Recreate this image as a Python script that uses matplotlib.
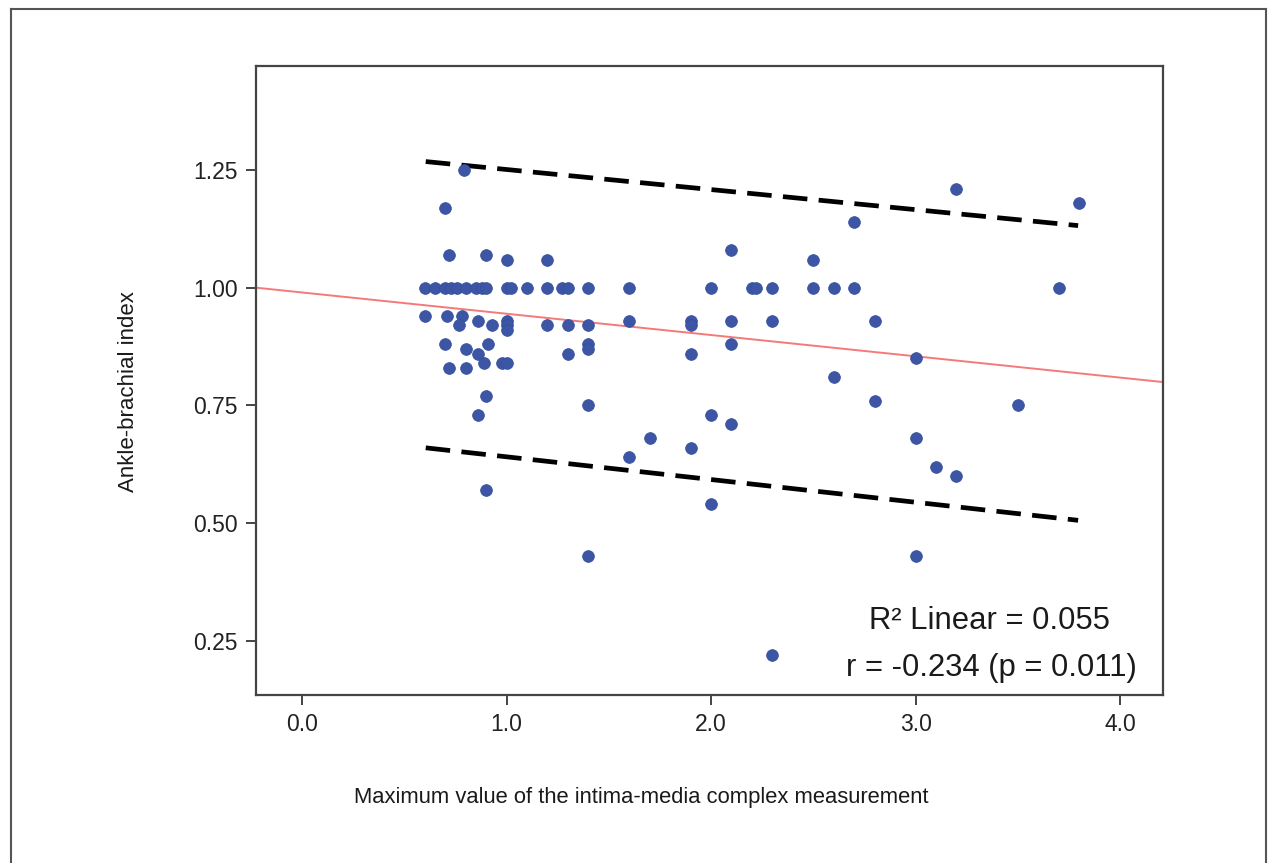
import matplotlib
matplotlib.use("Agg")
import matplotlib.pyplot as plt
from matplotlib.lines import Line2D
import numpy as np

# ---- data ----
imt_max = [
    # ABI = 1.00 row
    0.60, 0.65, 0.70, 0.73, 0.76, 0.80, 0.85, 0.88, 0.90, 1.00, 1.02, 1.10, 1.20, 1.27, 1.30, 1.40,
    1.60, 2.00, 2.20, 2.22, 2.30, 2.50, 2.60, 2.70, 3.70,
    # above 1.00
    0.79, 0.70, 0.72, 0.90, 1.00, 1.20, 2.10, 2.50, 2.70, 3.20, 3.80,
    # 0.90 - 0.95
    0.60, 0.71, 0.78, 0.77, 0.86, 0.93, 1.00, 1.00, 1.00, 1.20, 1.30, 1.40, 1.60, 1.90, 1.90,
    2.10, 2.30, 2.80,
    # 0.80 - 0.89
    0.70, 0.80, 0.91, 0.86, 0.89, 0.98, 1.00, 0.72, 0.80, 1.30, 1.40, 1.40, 2.10, 1.90, 3.00, 2.60,
    # below 0.80
    0.90, 0.86, 1.40, 2.80, 3.50, 2.00, 2.10, 1.70, 3.00, 1.90, 1.60, 3.10, 3.20,
    0.90, 2.00, 1.40, 3.00, 2.30,
]
abi = [
    1.00, 1.00, 1.00, 1.00, 1.00, 1.00, 1.00, 1.00, 1.00, 1.00, 1.00, 1.00, 1.00, 1.00, 1.00, 1.00,
    1.00, 1.00, 1.00, 1.00, 1.00, 1.00, 1.00, 1.00, 1.00,
    1.25, 1.17, 1.07, 1.07, 1.06, 1.06, 1.08, 1.06, 1.14, 1.21, 1.18,
    0.94, 0.94, 0.94, 0.92, 0.93, 0.92, 0.93, 0.92, 0.91, 0.92, 0.92, 0.92, 0.93, 0.93, 0.92,
    0.93, 0.93, 0.93,
    0.88, 0.87, 0.88, 0.86, 0.84, 0.84, 0.84, 0.83, 0.83, 0.86, 0.88, 0.87, 0.88, 0.86, 0.85, 0.81,
    0.77, 0.73, 0.75, 0.76, 0.75, 0.73, 0.71, 0.68, 0.68, 0.66, 0.64, 0.62, 0.60,
    0.57, 0.54, 0.43, 0.43, 0.22,
]

# fit line
fit_intercept = 0.990
fit_slope = -0.0452
# prediction-interval lines, endpoints
pi_x = [0.605, 3.795]
pi_upper = [1.268, 1.132]
pi_lower = [0.660, 0.506]

x_ticks = [0.0, 1.0, 2.0, 3.0, 4.0]
y_ticks = [0.25, 0.50, 0.75, 1.00, 1.25]
x_label = "Maximum value of the intima-media complex measurement"
y_label = "Ankle-brachial index"
stat_line1 = "R\u00b2 Linear = 0.055"
stat_line2 = "r = -0.234 (p = 0.011)"

FONT = ["Liberation Sans", "DejaVu Sans"]
plt.rcParams["font.family"] = FONT

W, H = 1268, 863
fig = plt.figure(figsize=(W / 100, H / 100), dpi=100)
fig.patch.set_facecolor("white")

ax = fig.add_axes([256 / W, 1 - 695 / H, (1163 - 256) / W, (695 - 66) / H])
xlim = (-0.225, 4.21)
ax.set_xlim(*xlim)
ax.set_ylim(0.135, 1.471)

# regression line across whole axis
xl = np.array(xlim)
ax.plot(xl, fit_intercept + fit_slope * xl, color="#f47a7a", lw=1.4, zorder=2)
# dashed interval lines
ax.plot(pi_x, pi_upper, color="black", lw=3.4, dashes=(5.2, 2.4), zorder=3)
ax.plot(pi_x, pi_lower, color="black", lw=3.4, dashes=(5.2, 2.4), zorder=3)

ax.scatter(imt_max, abi, s=72, color="#3c55a5", edgecolors="#34509e", linewidths=0.5, zorder=4)

ax.set_xticks(x_ticks)
ax.set_xticklabels([f"{v:.1f}" for v in x_ticks])
ax.set_yticks(y_ticks)
ax.set_yticklabels([f"{v:.2f}" for v in y_ticks])
ax.tick_params(direction="out", length=7, width=1.4, color="#444444",
               labelsize=16.5, labelcolor="#222222", pad=6)
for sp in ax.spines.values():
    sp.set_color("#444444")
    sp.set_linewidth(1.6)

fig.text(989 / W, 1 - 621 / H, stat_line1, ha="center", va="center",
         fontsize=22.3, color="#1a1a1a")
fig.text(991 / W, 1 - 668 / H, stat_line2, ha="center", va="center",
         fontsize=22.3, color="#1a1a1a")

fig.text(641 / W, 1 - 797 / H, x_label, ha="center", va="center", fontsize=15.8, color="#1a1a1a")
fig.text(128 / W, 1 - 392 / H, y_label, ha="center", va="center", rotation=90,
         fontsize=16, color="#1a1a1a")

# outer frame (left, top, right)
fc = "#555555"
fig.add_artist(Line2D([11 / W, 11 / W], [0, 1 - 9 / H], color=fc, lw=1.5, transform=fig.transFigure))
fig.add_artist(Line2D([11 / W, 1266 / W], [1 - 9 / H, 1 - 9 / H], color=fc, lw=1.5, transform=fig.transFigure))
fig.add_artist(Line2D([1266 / W, 1266 / W], [0, 1 - 9 / H], color=fc, lw=1.5, transform=fig.transFigure))

fig.savefig("out.png", dpi=100)
